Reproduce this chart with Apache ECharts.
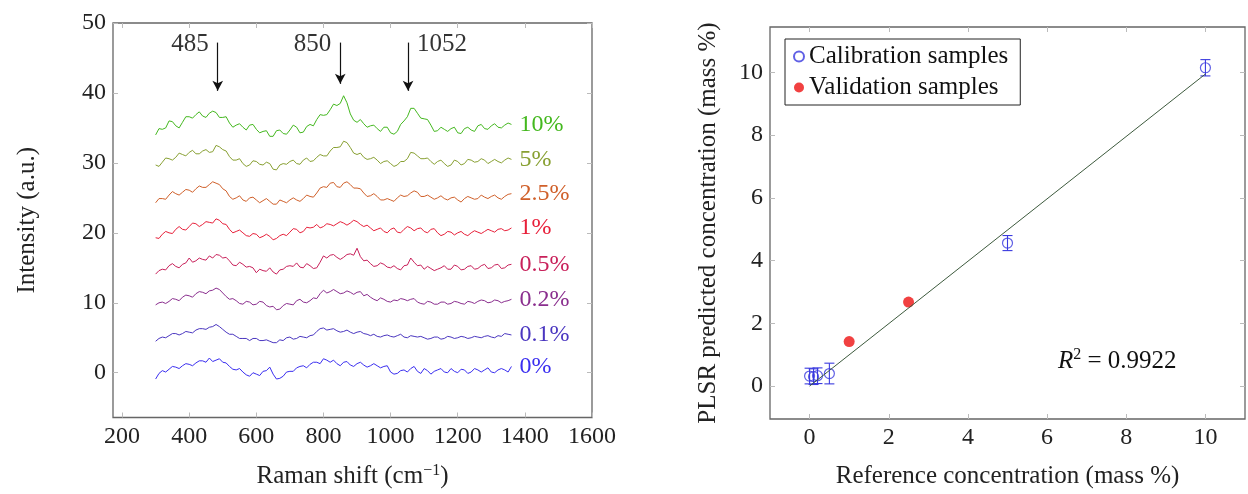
<!DOCTYPE html>
<html>
<head>
<meta charset="utf-8">
<script src="https://cdn.jsdelivr.net/npm/echarts@6/dist/echarts.min.js"></script>
<style>
html,body{margin:0;padding:0;background:#fff;}
#chart{width:1248px;height:494px;}
</style>
</head>
<body>
<div id="chart"></div>
<script>
// ---- Left panel: Raman spectra ----
const wavenumbers = [300,310,320,330,340,350,360,370,380,390,400,410,420,430,440,450,460,470,480,490,500,510,520,530,540,550,560,570,580,590,600,610,620,630,640,650,660,670,680,690,700,710,720,730,740,750,760,770,780,790,800,810,820,830,840,850,860,870,880,890,900,910,920,930,940,950,960,970,980,990,1000,1010,1020,1030,1040,1050,1060,1070,1080,1090,1100,1110,1120,1130,1140,1150,1160,1170,1180,1190,1200,1210,1220,1230,1240,1250,1260,1270,1280,1290,1300,1310,1320,1330,1340,1350,1360];
const spec10 = [34.0,34.9,34.8,35.0,36.0,35.9,35.3,35.0,35.8,36.6,36.6,36.4,36.9,37.3,36.7,36.5,37.1,37.4,37.2,36.5,36.5,36.6,35.7,35.1,35.4,35.6,35.1,34.7,35.4,35.5,34.8,34.3,34.5,34.6,33.8,33.8,34.6,34.7,34.2,34.1,34.7,35.4,35.1,34.3,34.4,35.2,35.5,35.3,36.2,36.9,36.8,36.9,37.6,38.4,38.2,38.5,39.6,38.6,37.0,36.1,35.8,36.2,35.6,35.1,35.3,35.4,34.9,34.5,35.1,35.1,34.3,34.1,34.5,35.5,36.0,36.6,37.8,37.8,37.1,36.4,36.3,36.2,35.4,34.5,34.6,35.1,34.8,34.5,34.9,35.1,34.3,34.2,34.9,35.1,34.7,34.5,35.3,35.5,34.9,34.8,35.3,35.6,35.1,35.0,35.4,35.7,35.5];
const spec5 = [29.7,29.5,30.1,30.7,30.6,30.4,30.8,31.4,31.2,31.0,31.5,31.8,31.3,31.3,31.7,31.9,31.5,31.6,32.5,32.3,31.9,31.7,30.9,30.4,30.4,30.6,29.9,29.5,29.7,30.3,30.2,29.8,29.7,30.1,29.9,29.1,29.0,29.7,29.9,29.8,30.2,30.4,29.9,29.8,30.4,30.7,30.2,30.3,30.8,31.2,31.0,31.0,31.7,32.2,32.2,32.3,33.1,32.9,32.2,31.4,31.2,31.4,30.8,30.5,30.6,30.8,30.4,29.9,30.2,30.3,29.9,29.5,29.7,30.2,30.2,30.6,31.5,31.4,31.0,30.6,30.6,30.7,30.2,29.8,30.2,30.4,29.9,29.5,29.7,30.4,30.2,29.7,29.9,30.5,30.4,30.1,30.2,30.6,30.4,29.9,30.2,30.5,30.2,30.0,30.4,30.7,30.5];
const spec25 = [24.3,24.9,24.9,24.8,25.4,25.9,25.6,25.4,25.8,26.2,26.1,25.8,26.3,26.7,26.5,26.5,26.9,27.3,27.1,26.9,26.3,26.0,25.2,24.8,25.0,25.3,24.7,24.5,25.0,25.1,24.7,24.3,24.6,24.9,24.5,24.1,24.1,24.7,24.5,24.3,24.7,25.0,24.7,24.5,24.9,25.4,25.2,25.1,25.7,26.4,26.6,26.5,27.1,27.2,26.6,26.5,27.1,27.3,26.9,26.4,26.4,26.3,25.7,25.2,25.3,25.6,25.2,24.7,24.7,24.9,24.7,24.5,25.0,25.4,25.2,25.3,25.7,26.0,25.8,25.2,25.2,25.4,25.1,24.8,25.0,25.3,24.9,24.7,25.0,25.1,24.7,24.4,24.9,25.2,25.0,24.8,24.9,25.4,25.1,24.9,25.2,25.4,25.0,24.8,25.2,25.5,25.6];
const spec1 = [19.3,19.2,19.8,20.2,20.0,19.9,20.5,20.9,20.5,20.4,20.9,21.4,21.3,20.9,21.2,21.6,21.5,21.4,22.0,21.8,21.3,21.2,20.5,20.0,20.2,20.4,20.0,19.6,19.5,19.9,19.8,19.3,19.5,19.8,19.5,19.0,19.2,19.6,19.8,19.6,20.1,20.6,20.5,20.0,20.2,20.8,20.7,20.8,21.2,20.7,20.9,21.3,21.2,21.0,21.3,21.6,21.4,21.1,21.4,21.8,21.6,21.2,20.9,21.1,20.7,20.3,20.5,20.7,20.2,20.0,20.5,20.7,20.1,20.0,20.5,20.9,20.7,20.3,20.6,20.7,20.2,20.0,20.5,20.6,20.0,19.6,19.8,20.2,20.1,19.7,20.0,20.2,19.8,19.6,20.0,20.3,20.1,19.9,20.2,20.5,20.3,20.1,20.5,20.6,20.3,20.4,20.7];
const spec05 = [14.1,14.6,14.8,14.7,15.3,15.6,15.2,15.0,15.5,15.7,16.4,15.8,16.0,16.4,16.2,16.1,16.7,16.4,16.9,16.8,16.4,16.5,16.0,15.4,15.3,15.8,15.5,15.1,15.2,15.0,14.3,14.8,14.6,14.5,15.0,14.4,14.1,14.7,14.8,15.2,15.3,15.2,15.7,15.1,15.0,15.6,15.3,14.9,15.0,15.8,16.7,16.4,16.8,16.9,16.5,16.2,16.5,16.9,17.0,16.8,17.8,16.6,16.0,16.1,15.6,15.2,15.3,15.7,15.5,15.1,15.0,15.3,14.9,14.7,15.3,15.4,16.4,15.8,15.3,15.4,14.8,15.2,14.9,14.6,14.8,15.0,15.3,14.8,14.8,15.4,15.2,14.7,14.8,15.2,15.3,14.8,14.9,15.3,15.5,14.9,15.0,15.4,15.5,14.9,15.0,15.4,15.5];
const spec02 = [9.7,10.0,10.1,9.9,10.2,10.6,10.5,10.3,10.8,11.1,11.0,10.8,11.3,11.6,11.5,11.3,11.7,11.8,12.1,11.9,11.4,10.9,10.5,10.6,10.3,9.9,9.8,10.2,10.1,9.7,9.8,10.2,10.1,9.6,9.4,9.5,9.0,9.1,9.6,9.9,9.8,9.7,10.3,10.5,10.1,10.0,10.3,10.7,10.6,11.3,11.8,11.4,11.6,11.9,11.6,11.3,11.4,11.7,11.5,11.2,11.5,11.6,11.0,11.2,10.8,10.5,10.3,10.7,10.5,10.2,10.1,10.4,10.3,10.6,10.5,10.3,10.5,10.6,10.1,9.9,9.8,10.2,10.1,9.8,9.8,10.1,10.1,9.8,9.9,10.2,10.1,9.9,9.8,10.2,10.1,9.9,10.2,10.4,10.3,10.0,10.1,10.4,10.3,10.0,10.2,10.3,10.5];
const spec01 = [4.5,4.9,5.1,5.0,5.3,5.6,5.6,5.4,5.6,5.9,5.8,5.7,6.1,6.3,6.3,6.2,6.5,6.6,6.9,6.6,6.2,5.8,5.5,5.5,5.2,4.9,4.9,4.9,4.6,4.9,4.9,4.6,4.6,4.7,4.5,4.3,4.3,4.7,4.6,5.0,5.1,4.8,4.9,5.2,5.1,5.0,5.3,5.4,5.9,6.3,6.4,6.1,6.2,6.3,6.0,5.8,5.9,6.1,5.8,5.6,5.8,5.9,5.6,5.5,5.3,5.5,5.2,5.1,5.3,5.4,5.2,5.1,5.3,5.5,5.1,5.0,5.3,5.2,5.1,5.2,5.0,4.8,4.9,5.1,5.1,4.8,4.9,5.2,5.1,4.9,5.0,5.2,5.1,4.9,5.0,5.2,5.1,5.0,5.2,5.3,5.1,5.0,5.3,5.2,5.6,5.5,5.4];
const spec0 = [-0.9,-0.1,0.3,0.1,0.5,0.9,0.8,0.6,1.0,1.3,1.2,1.0,1.4,1.7,1.7,1.5,2.1,1.6,1.8,2.0,1.5,1.4,0.9,0.5,0.4,0.6,0.1,-0.3,-0.5,0.0,-0.2,-0.4,0.2,0.3,0.8,-0.2,-0.9,-0.8,-0.5,0.1,0.2,0.2,0.7,0.9,1.0,0.7,1.2,1.5,1.5,1.3,2.0,1.8,1.5,1.8,1.3,1.0,1.5,1.6,1.1,0.9,1.3,1.5,1.1,0.8,1.0,1.3,1.0,0.7,0.9,1.0,0.1,-0.2,-0.1,0.3,0.4,0.1,0.6,0.9,0.2,-0.1,0.6,0.3,-0.2,0.2,0.4,0.6,0.1,0.0,0.6,0.2,0.0,0.5,0.4,-0.1,0.1,0.6,0.4,0.1,0.4,0.7,0.1,0.0,0.4,0.6,0.4,0.1,0.9];
const specNames = ['10%','5%','2.5%','1%','0.5%','0.2%','0.1%','0%'];
const specColors = ['#44b81f','#88a032','#d0602a','#e8203a','#c8205a','#8a2e8e','#4a36c0','#3a2ef0'];
const specData = [spec10,spec5,spec25,spec1,spec05,spec02,spec01,spec0];
const peaks = [485, 850, 1052];
const peakLabels = ['485','850','1052'];
const ramanTicks = [200,400,600,800,1000,1200,1400,1600];
const intensityTicks = [0,10,20,30,40,50];

// ---- Right panel: PLSR ----
const calX = [0, 0.1, 0.2, 0.5, 5, 10];
const calY = [0.32, 0.30, 0.33, 0.40, 4.56, 10.15];
const calErr = [0.25, 0.25, 0.25, 0.33, 0.24, 0.26];
const valX = [1, 2.5];
const valY = [1.42, 2.68];
const fitX = [0, 10];
const fitY = [0.0, 9.95];
const refTicks = [0,2,4,6,8,10];
const predTicks = [0,2,4,6,8,10];

const FONT = 'Liberation Serif';
const FS = 24;   // tick labels
const FN = 25;   // titles / legend / annotations
const txt = {fontFamily: FONT, fontSize: FN, color: '#222'};

function mkAxis(gridIndex, position, min, max, ticks, showLabel, extra) {
  return Object.assign({
    type: 'value', gridIndex, position, min, max,
    axisLine: {show: false, onZero: false},
    axisTick: {show: true, inside: true, length: 5, customValues: ticks, lineStyle: {color: '#bbb', width: 1}},
    axisLabel: {show: showLabel, customValues: ticks, margin: 7, fontFamily: FONT, fontSize: FS, color: '#222',
      formatter: (v) => String(v)},
    splitLine: {show: false}
  }, extra || {});
}

const series = [];
specData.forEach((arr, i) => {
  series.push({
    type: 'line', xAxisIndex: 0, yAxisIndex: 0, name: specNames[i],
    data: wavenumbers.map((x, j) => [x, arr[j]]),
    showSymbol: false, symbol: 'none', silent: true,
    lineStyle: {color: specColors[i], width: 1},
    endLabel: {show: true, formatter: specNames[i], color: specColors[i], fontFamily: FONT, fontSize: FS, distance: 8}
  });
});
const arrowTop = 47.2, arrowTip = [40.3, 41.3, 40.3];
series.push({
  type: 'scatter', xAxisIndex: 0, yAxisIndex: 0, silent: true, symbolSize: 0,
  data: peaks.map((p, i) => ({
    value: [p, arrowTop - 0.2],
    label: {position: i === 2 ? 'right' : 'left'}
  })),
  label: {show: true, formatter: (p) => peakLabels[p.dataIndex],
    distance: 9, fontFamily: FONT, fontSize: FN, color: '#000'},
  markLine: {
    silent: true, symbol: ['none', 'arrow'], symbolSize: [8, 10],
    lineStyle: {color: '#111', width: 1.2, type: 'solid'},
    label: {show: false},
    data: peaks.map((p, i) => [{coord: [p, arrowTop]}, {coord: [p, arrowTip[i]]}])
  }
});

// right panel
series.push({
  type: 'line', xAxisIndex: 2, yAxisIndex: 2, silent: true,
  data: fitX.map((x, i) => [x, fitY[i]]),
  showSymbol: false, symbol: 'none',
  lineStyle: {color: '#3d5a3d', width: 1}
});
series.push({
  type: 'custom', xAxisIndex: 2, yAxisIndex: 2, silent: true,
  data: calX.map((x, i) => [x, calY[i] - calErr[i], calY[i] + calErr[i]]),
  encode: {x: 0, y: [1, 2]},
  renderItem: function (params, api) {
    const x = api.value(0), lo = api.value(1), hi = api.value(2);
    const a = api.coord([x, lo]), b = api.coord([x, hi]);
    const w = 5, st = {stroke: '#3a3adf', lineWidth: 1.1};
    return {type: 'group', children: [
      {type: 'line', shape: {x1: a[0], y1: a[1], x2: b[0], y2: b[1]}, style: st},
      {type: 'line', shape: {x1: a[0] - w, y1: a[1], x2: a[0] + w, y2: a[1]}, style: st},
      {type: 'line', shape: {x1: b[0] - w, y1: b[1], x2: b[0] + w, y2: b[1]}, style: st}
    ]};
  }
});
series.push({
  type: 'scatter', name: 'Calibration samples', xAxisIndex: 2, yAxisIndex: 2, silent: true,
  data: calX.map((x, i) => [x, calY[i]]),
  symbol: 'circle', symbolSize: 10,
  itemStyle: {color: 'rgba(255,255,255,0)', borderColor: '#3a3adf', borderWidth: 1.2}
});
series.push({
  type: 'scatter', name: 'Validation samples', xAxisIndex: 2, yAxisIndex: 2, silent: true,
  data: valX.map((x, i) => [x, valY[i]]),
  symbol: 'circle', symbolSize: 11,
  itemStyle: {color: '#ee1111'}
});

const option = {
  animation: false,
  backgroundColor: '#fff',
  grid: [
    {left: 113, top: 23, width: 479, height: 398, show: true, borderColor: '#666', borderWidth: 1.3, backgroundColor: 'transparent'},
    {left: 770, top: 27, width: 475, height: 395, show: true, borderColor: '#666', borderWidth: 1.3, backgroundColor: 'transparent'}
  ],
  xAxis: [
    mkAxis(0, 'bottom', 173, 1600, ramanTicks, true, {
      name: 'Raman shift (cm{sup|−1})', nameLocation: 'middle', nameGap: 45,
      nameTextStyle: Object.assign({}, txt, {rich: {sup: {fontFamily: FONT, fontSize: 16, verticalAlign: 'top', padding: [0, 0, 12, 0], color: '#222'}}})
    }),
    mkAxis(0, 'top', 173, 1600, ramanTicks, false),
    mkAxis(1, 'bottom', -1, 11, refTicks, true, {
      name: 'Reference concentration (mass %)', nameLocation: 'middle', nameGap: 45, nameTextStyle: txt
    }),
    mkAxis(1, 'top', -1, 11, refTicks, false)
  ],
  yAxis: [
    mkAxis(0, 'left', -6.4, 50, intensityTicks, true, {
      name: 'Intensity (a.u.)', nameLocation: 'middle', nameGap: 73, nameTextStyle: txt
    }),
    mkAxis(0, 'right', -6.4, 50, intensityTicks, false),
    mkAxis(1, 'left', -1.05, 11.45, predTicks, true, {
      name: 'PLSR predicted concentration (mass %)', nameLocation: 'middle', nameGap: 49, nameTextStyle: txt
    }),
    mkAxis(1, 'right', -1.05, 11.45, predTicks, false)
  ],
  legend: {
    data: ['Calibration samples', 'Validation samples'],
    orient: 'vertical', left: 785, top: 39,
    borderColor: '#222', borderWidth: 1, padding: [5, 12, 5, 8], itemGap: 6,
    itemWidth: 10, itemHeight: 10,
    textStyle: {fontFamily: FONT, fontSize: FN, color: '#111'}
  },
  title: {
    text: '{i|R}{s|2} = 0.9922', left: 1053, top: 342,
    textStyle: {fontFamily: FONT, fontSize: FN, fontWeight: 'normal', color: '#111',
      rich: {i: {fontFamily: FONT, fontSize: FN, fontStyle: 'italic', fontWeight: 'normal', color: '#111'},
             s: {fontFamily: FONT, fontSize: 16, fontWeight: 'normal', verticalAlign: 'top', padding: [0, 0, 12, 0], color: '#111'},
             n: {fontFamily: FONT, fontSize: FN, fontWeight: 'normal', color: '#111'}}}
  },
  series
};
const chart = echarts.init(document.getElementById('chart'), null, {renderer: 'canvas'});
chart.setOption(option);
</script>
</body>
</html>
